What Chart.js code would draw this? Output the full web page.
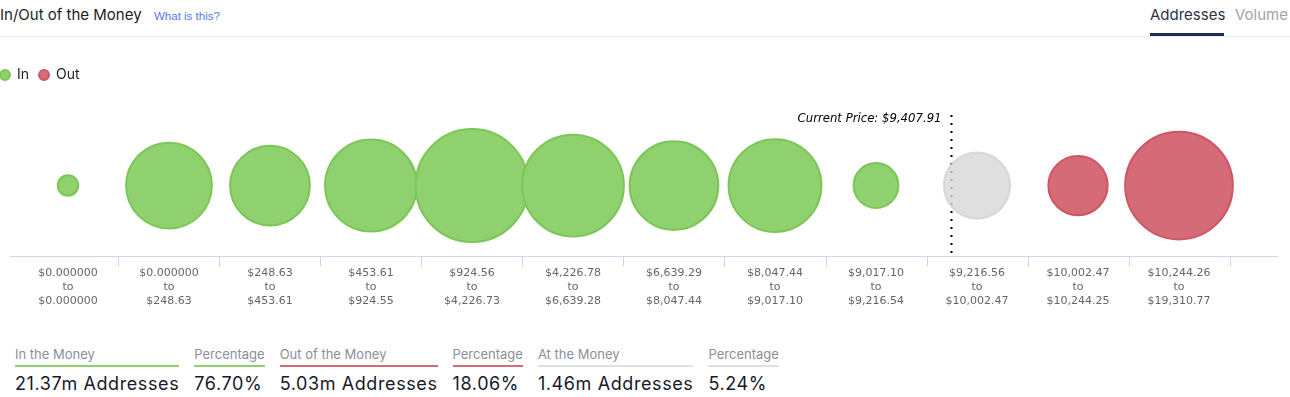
<!DOCTYPE html>
<html>
<head>
<meta charset="utf-8">
<script src="https://cdn.jsdelivr.net/npm/chart.js@4"></script>
<style>
  body { margin: 0; width: 1290px; height: 397px; background: #fff; position: relative; overflow: hidden; font-family: Inter, sans-serif; }
  .title { position: absolute; left: 0; top: 5px; font-size: 15px; color: #1d1d1d; }
  .help { position: absolute; left: 154px; top: 10px; font: 11.5px "Liberation Sans", Arial, sans-serif; color: #5877e0; }
  .sep { position: absolute; left: 0; top: 36px; width: 1290px; height: 1px; background: #e6e9ee; }
  .tab { position: absolute; top: 5px; font-size: 15px; }
  .tab.on { left: 1150px; color: #2e3447; }
  .tab.off { left: 1235px; color: #a3a3a3; }
  .tabline { position: absolute; left: 1150px; top: 33px; width: 74px; height: 3px; background: #1f2b5b; }
  #wrap { position: absolute; left: -10px; top: 40px; width: 1300px; height: 280px; }
  .stats { position: absolute; left: 15px; top: 346px; display: flex; gap: 15px; }
  .lbl { font-size: 13px; color: #8a8f99; padding-bottom: 3px; border-bottom: 2px solid; }
  .val { font-size: 18px; letter-spacing: 0.6px; color: #161a2c; margin-top: 6px; white-space: nowrap; }
</style>
</head>
<body>
<div class="title">In/Out of the Money</div>
<div class="help">What is this?</div>
<div class="tab on">Addresses</div>
<div class="tab off">Volume</div>
<div class="tabline"></div>
<div class="sep"></div>
<div id="wrap"><canvas id="chart"></canvas></div>
<div class="stats" id="stats"></div>
<script>
// Faixas de preço (rótulos do eixo x)
const rangeFrom = ['$0.000000', '$0.000000', '$248.63', '$453.61', '$924.56', '$4,226.78', '$6,639.29', '$8,047.44', '$9,017.10', '$9,216.56', '$10,002.47', '$10,244.26'];
const rangeTo = ['$0.000000', '$248.63', '$453.61', '$924.55', '$4,226.73', '$6,639.28', '$8,047.44', '$9,017.10', '$9,216.54', '$10,002.47', '$10,244.25', '$19,310.77'];
// Endereços em cada faixa (milhões, estimados pelo tamanho das bolhas)
const addresses = [0.14, 2.45, 2.12, 2.81, 4.24, 3.45, 2.62, 2.87, 0.67, 1.46, 1.17, 3.86];
const status = ['in', 'in', 'in', 'in', 'in', 'in', 'in', 'in', 'in', 'at', 'out', 'out'];
const currentPrice = 9407.91;

// Resumo embaixo do gráfico
const summaryLabels = ['In the Money', 'Percentage', 'Out of the Money', 'Percentage', 'At the Money', 'Percentage'];
const summaryValues = ['21.37m Addresses', '76.70%', '5.03m Addresses', '18.06%', '1.46m Addresses', '5.24%'];
const summaryColors = ['#8fd16f', '#8fd16f', '#d66b78', '#d66b78', '#e0e0e0', '#e0e0e0'];

const stats = document.getElementById('stats');
summaryLabels.forEach((l, i) => {
    stats.innerHTML += `<div><div class="lbl" style="border-color:${summaryColors[i]}">${l}</div><div class="val">${summaryValues[i]}</div></div>`;
});

const num = s => parseFloat(s.replace(/[$,]/g, ''));
const K = 27.4; // px por raiz de milhão

function points(kind) {
    const out = [];
    addresses.forEach((v, i) => { if (status[i] === kind) out.push({ x: i, y: 0, v: v }); });
    return out;
}

// Linha pontilhada do preço atual + marcas do eixo
const pricePlugin = {
    id: 'pricePlugin',
    beforeInit(chart) {
        const fit = chart.legend.fit;
        chart.legend.fit = function () { fit.call(this); this.height += 23; };
    },
    beforeDatasetsDraw(chart) {
        const { ctx, chartArea, scales } = chart;
        const idx = rangeFrom.findIndex((f, i) => currentPrice >= num(f) && currentPrice <= num(rangeTo[i]) && status[i] === 'at');
        const frac = (currentPrice - num(rangeFrom[idx])) / (num(rangeTo[idx]) - num(rangeFrom[idx]));
        const px = Math.round(scales.x.getPixelForValue(idx - 0.5 + frac)) + 0.5;
        ctx.save();
        ctx.strokeStyle = '#000';
        ctx.lineWidth = 2;
        ctx.setLineDash([2, 6]);
        ctx.beginPath();
        ctx.moveTo(px, chartArea.top);
        ctx.lineTo(px, chartArea.bottom);
        ctx.stroke();
        ctx.setLineDash([]);
        ctx.font = 'italic 11.7px "DejaVu Sans"';
        ctx.fillStyle = '#000';
        ctx.textAlign = 'right';
        ctx.textBaseline = 'middle';
        ctx.fillText('Current Price: $' + currentPrice.toLocaleString('en-US'), px - 10, chartArea.top + 4);
        // eixo x
        ctx.strokeStyle = '#ccd6eb';
        ctx.lineWidth = 1;
        const y = chartArea.bottom + 0.5;
        ctx.beginPath();
        ctx.moveTo(scales.x.getPixelForValue(-0.574), y);
        ctx.lineTo(chartArea.right, y);
        for (let i = 0; i < addresses.length; i++) {
            const tx = Math.round(scales.x.getPixelForValue(i + 0.5)) + 0.5;
            ctx.moveTo(tx, y);
            ctx.lineTo(tx, y + 10);
        }
        ctx.stroke();
        ctx.restore();
    }
};

const bubbleOpts = {
    borderWidth: 2,
    radius: c => Math.sqrt(c.raw.v) * K,
    hoverRadius: 0,
    clip: false
};

new Chart(document.getElementById('chart'), {
    type: 'bubble',
    data: {
        datasets: [
            Object.assign({ label: 'In', data: points('in'), backgroundColor: '#8fd06f', borderColor: '#7cc657' }, bubbleOpts),
            Object.assign({ label: 'Out', data: points('out'), backgroundColor: '#d66b78', borderColor: '#cf5465' }, bubbleOpts),
            Object.assign({ label: 'At', data: points('at'), backgroundColor: 'rgba(214,214,214,0.78)', borderColor: 'rgba(210,210,210,0.8)' }, bubbleOpts)
        ]
    },
    options: {
        responsive: true,
        maintainAspectRatio: false,
        animation: false,
        events: [],
        layout: { autoPadding: false, padding: { top: 18, left: 0, right: 12, bottom: 2 } },
        scales: {
            x: {
                type: 'linear',
                min: -0.772,
                max: 11.98,
                grid: { display: false, drawTicks: false },
                border: { display: false },
                afterBuildTicks: axis => { axis.ticks = rangeFrom.map((_, i) => ({ value: i })); },
                afterFit: axis => { axis.paddingLeft = 0; axis.paddingRight = 0; },
                ticks: {
                    autoSkip: false,
                    maxRotation: 0,
                    padding: 10,
                    color: '#666',
                    font: { family: 'DejaVu Sans', size: 11, lineHeight: 1.27 },
                    callback: v => [rangeFrom[v], 'to', rangeTo[v]]
                }
            },
            y: { display: false, min: -1, max: 1 }
        },
        plugins: {
            tooltip: { enabled: false },
            legend: {
                align: 'start',
                labels: {
                    filter: item => item.text !== 'At',
                    usePointStyle: true,
                    pointStyle: 'circle',
                    boxWidth: 10,
                    boxHeight: 7,
                    padding: 10,
                    color: '#222',
                    font: { family: 'Inter', size: 14 }
                }
            }
        }
    },
    plugins: [pricePlugin]
});
</script>
</body>
</html>
